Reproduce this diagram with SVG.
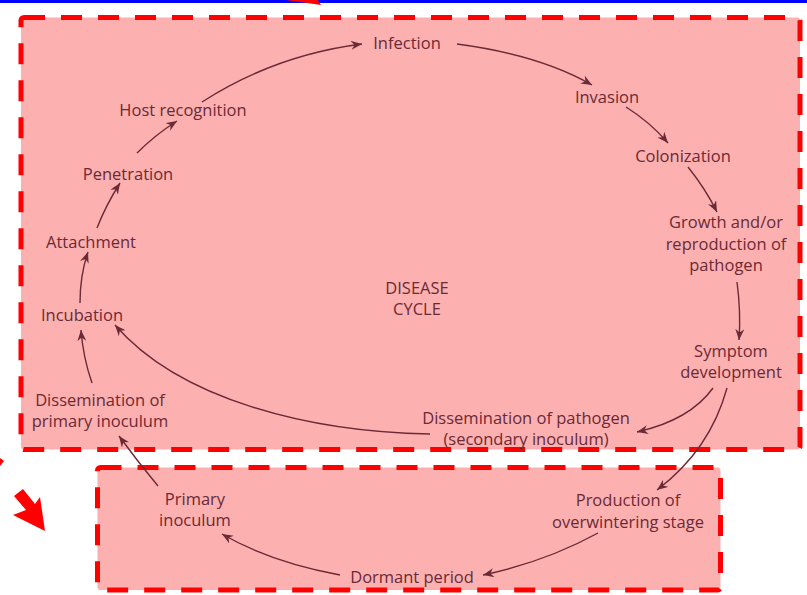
<svg xmlns="http://www.w3.org/2000/svg" width="807" height="595" viewBox="0 0 807 595">
<defs>
<marker id="ah" markerUnits="userSpaceOnUse" markerWidth="14" markerHeight="12" refX="11" refY="4.5" orient="auto">
<path d="M0,0 L11,4.5 L0,9 L3.5,4.5 z" fill="#6a2a36"/>
</marker>
<style>
.box{fill:#fdb0b0;stroke:#ff0000;stroke-width:5;stroke-dasharray:21 16;}
.lbl{font-family:"Open Sans","Liberation Sans",sans-serif;font-size:16.5px;fill:#6a2a36;text-anchor:middle;}
.cn{fill:none;stroke:#6a2a36;stroke-width:1.4;marker-end:url(#ah);}
</style>
</defs>
<rect x="0" y="0" width="807" height="595" fill="#ffffff"/>
<rect x="0" y="0" width="807" height="3" fill="#0000ff"/>
<polygon points="286,0 318,0 321,5 300,2" fill="#ff0000"/>
<polygon points="0,458 4,461 0,466" fill="#ff0000"/>
<polygon points="14,496 23,489 35,504 40,497 45,531 13,515 26,510" fill="#ff0000"/>
<g id="regions">
<rect class="box" x="21" y="17.5" width="779" height="432" rx="3"/>
<rect class="box" x="97.5" y="467.5" width="623" height="122.5" rx="3"/>
</g>
<g id="connectors">
<path class="cn" d="M202,102 Q275,55 362,44"/>
<path class="cn" d="M457,44 Q540,55 592,85"/>
<path class="cn" d="M626,107 Q650,122 668,143"/>
<path class="cn" d="M688,167 Q705,188 717,212"/>
<path class="cn" d="M737,282 Q741,312 739,340"/>
<path class="cn" d="M713,388 Q690,420 637,432"/>
<path class="cn" d="M727,388 Q710,450 657,490"/>
<path class="cn" d="M598,533 Q545,562 483,575"/>
<path class="cn" d="M340,575 Q270,562 222,534"/>
<path class="cn" d="M158,486 Q138,462 119,436"/>
<path class="cn" d="M430,434 C310,432 180,400 115,325"/>
<path class="cn" d="M92,383 Q83,357 81,330"/>
<path class="cn" d="M80,303 Q80,275 88,252"/>
<path class="cn" d="M97,228 Q106,205 120,183"/>
<path class="cn" d="M137,153 Q155,135 177,121"/>
</g>
<g id="infection"><text class="lbl" x="407" y="49">Infection</text></g>
<g id="invasion"><text class="lbl" x="607" y="103">Invasion</text></g>
<g id="colonization"><text class="lbl" x="683" y="162">Colonization</text></g>
<g id="growth"><text class="lbl" x="726" y="228">Growth and/or</text><text class="lbl" x="726" y="250">reproduction of</text><text class="lbl" x="726" y="271">pathogen</text></g>
<g id="symptom"><text class="lbl" x="731" y="357">Symptom</text><text class="lbl" x="731" y="378">development</text></g>
<g id="dissem-pathogen"><text class="lbl" x="526" y="424">Dissemination of pathogen</text><text class="lbl" x="526" y="445">(secondary inoculum)</text></g>
<g id="disease-cycle"><text class="lbl" x="417" y="294">DISEASE</text><text class="lbl" x="417" y="315">CYCLE</text></g>
<g id="incubation"><text class="lbl" x="82" y="321">Incubation</text></g>
<g id="attachment"><text class="lbl" x="91" y="248">Attachment</text></g>
<g id="penetration"><text class="lbl" x="128" y="180">Penetration</text></g>
<g id="host-recognition"><text class="lbl" x="183" y="116">Host recognition</text></g>
<g id="dissem-primary"><text class="lbl" x="100" y="406">Dissemination of</text><text class="lbl" x="100" y="427">primary inoculum</text></g>
<g id="primary-inoculum"><text class="lbl" x="195" y="505">Primary</text><text class="lbl" x="195" y="526">inoculum</text></g>
<g id="production"><text class="lbl" x="628" y="506">Production of</text><text class="lbl" x="628" y="528">overwintering stage</text></g>
<g id="dormant"><text class="lbl" x="412" y="583">Dormant period</text></g>
</svg>
